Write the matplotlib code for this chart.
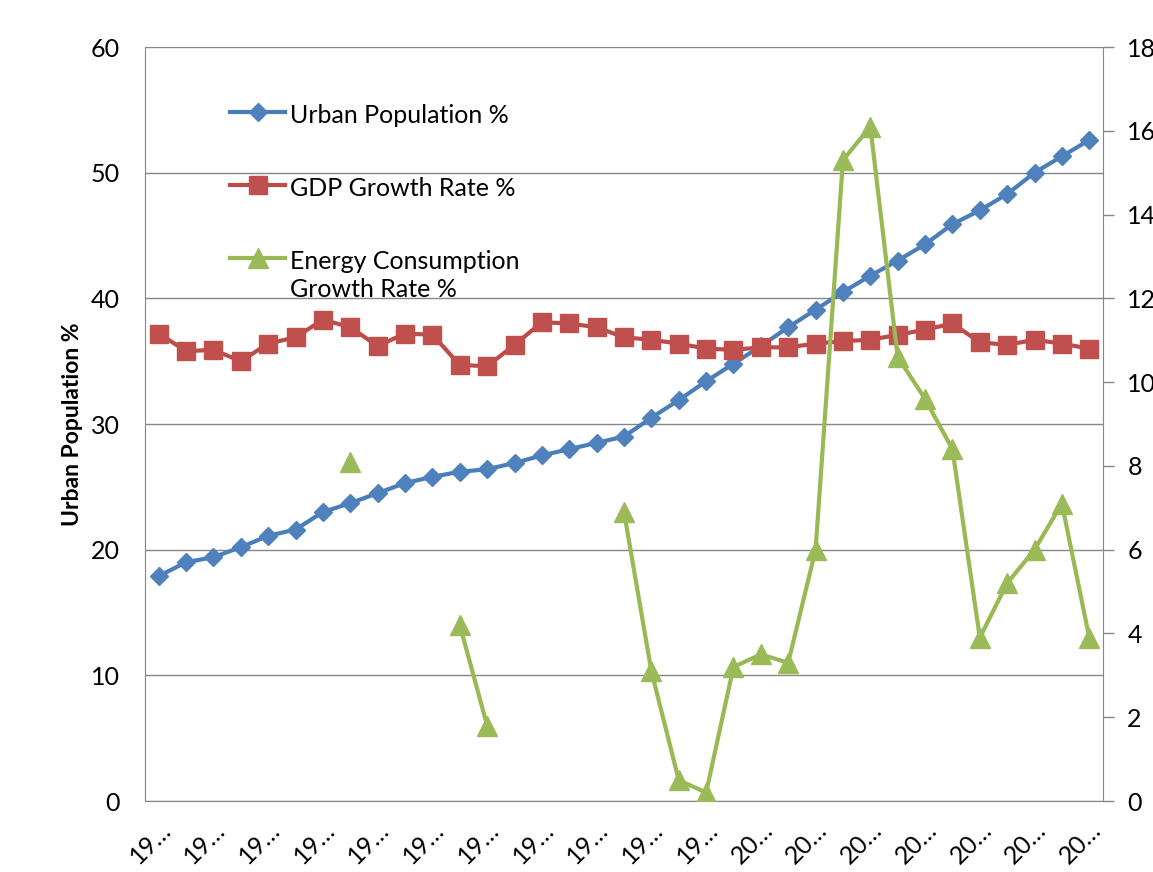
import numpy as np
import matplotlib
matplotlib.use("Agg")
import matplotlib.pyplot as plt

plt.rcParams['font.family'] = ['Lato', 'DejaVu Sans']

years = list(range(1978, 2013))

urban_pop = [17.9, 19.0, 19.4, 20.2, 21.1, 21.6, 23.0, 23.7, 24.5, 25.3,
             25.8, 26.2, 26.4, 26.9, 27.5, 28.0, 28.5, 29.0, 30.5, 31.9,
             33.4, 34.8, 36.2, 37.7, 39.1, 40.5, 41.8, 43.0, 44.3, 45.9,
             47.0, 48.3, 50.0, 51.3, 52.6]

gdp_growth = [11.16, 10.74, 10.77, 10.50, 10.92, 11.07, 11.49, 11.31, 10.86, 11.16,
              11.13, 10.41, 10.38, 10.89, 11.43, 11.40, 11.31, 11.07, 11.01, 10.92,
              10.80, 10.77, 10.83, 10.83, 10.92, 10.98, 11.01, 11.13, 11.25, 11.40,
              10.95, 10.89, 11.01, 10.92, 10.80]

nan = np.nan
energy_growth = [nan, nan, nan, nan, nan, nan, nan, 8.1, nan, nan,
                 nan, 4.2, 1.8, nan, nan, nan, nan, 6.9, 3.1, 0.5,
                 0.2, 3.2, 3.5, 3.3, 6.0, 15.3, 16.1, 10.6, 9.6, 8.4,
                 3.9, 5.2, 6.0, 7.1, 3.9]

blue = '#4A7EBB'
red = '#BE4B48'
green = '#98B954'
gray = '#868686'

x = np.arange(len(years))

fig = plt.figure(figsize=(11.53, 8.72), dpi=100)
ax = fig.add_axes([0.1258, 0.0814, 0.8308, 0.8647])
ax2 = ax.twinx()

l1, = ax.plot(x, urban_pop, color=blue, lw=3, marker='D', ms=9.5,
              mfc='#4F81BD', mec='#4F81BD', label='Urban Population %')
l2, = ax2.plot(x, gdp_growth, color=red, lw=3, marker='s', ms=13,
               mfc='#C0504D', mec='#C0504D', label='GDP Growth Rate %')
l3, = ax2.plot(x, energy_growth, color=green, lw=3, marker='^', ms=15,
               mfc='#9BBB59', mec='#9BBB59',
               label='Energy Consumption\nGrowth Rate %')

ax.set_xlim(-0.5, len(years) - 0.5)
ax.set_ylim(0, 60)
ax.set_yticks(range(0, 61, 10))
ax2.set_ylim(0, 18)
ax2.set_yticks(range(0, 19, 2))

ax.set_xticks(x[::2])
ax.set_xticklabels([str(y)[:2] + '\u2026' for y in years[::2]],
                   rotation=45, ha='right', va='top', rotation_mode='anchor')

ax.grid(axis='y', color=gray, lw=1)
ax.set_axisbelow(True)

ax.spines['top'].set_visible(False)
ax2.spines['top'].set_visible(False)
for s in ['left', 'bottom']:
    ax.spines[s].set_color(gray)
    ax2.spines[s].set_visible(False)
ax.spines['right'].set_visible(False)
ax2.spines['right'].set_color(gray)

ax.tick_params(axis='y', length=0, pad=18, labelsize=18)
ax.tick_params(axis='x', length=0, pad=12, labelsize=18)
ax2.tick_params(axis='y', length=8, width=1, color=gray, pad=9.5, labelsize=18)

ax.set_ylabel('Urban Population %', fontsize=16.5, fontweight='bold', labelpad=6)

leg = ax.legend(handles=[l1, l2, l3], loc='upper left', bbox_to_anchor=(0.0887, 0.925),
                frameon=False, fontsize=18, borderpad=0, borderaxespad=0,
                handlelength=2.2, handletextpad=0.2, labelspacing=2.0)
for t in leg.get_texts():
    t.set_linespacing(1.3)
# keep each marker level with the first line of its label
for entry in leg.get_children()[0].get_children()[1].get_children()[0].get_children():
    entry.align = 'top'

fig.savefig('out.png', dpi=100)
